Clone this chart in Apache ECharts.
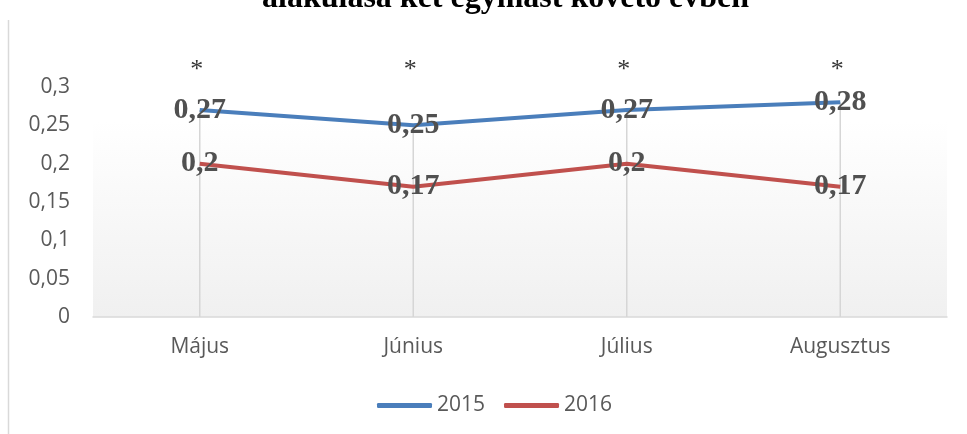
<!DOCTYPE html>
<html><head><meta charset="utf-8">
<script src="https://cdn.jsdelivr.net/npm/echarts@6/dist/echarts.min.js"></script>
<style>html,body{margin:0;padding:0;background:#fff}#c{width:967px;height:434px}</style>
</head><body><div id="c"></div>
<script>
const titleText = 'alakulása két egymást követő évben';
const categories = ['Május', 'Június', 'Július', 'Augusztus'];
const series2015 = [0.27, 0.25, 0.27, 0.28];
const series2016 = [0.2, 0.17, 0.2, 0.17];
const significance = ['*', '*', '*', '*'];
const sigLevel = 0.322;
const yTicks = { min: 0, max: 0.3, interval: 0.05 };

const comma = v => String(v).replace('.', ',');
const dropTops = series2015.map((v, i) => Math.max(v, series2016[i]));
const sans = 'Open Sans';

const chart = echarts.init(document.getElementById('c'));
chart.setOption({
  animation: false,
  title: {
    text: titleText, left: 262, top: -17, padding: 0,
    textStyle: { fontFamily: 'Liberation Serif', fontWeight: 'bold', fontSize: 32, color: '#000' }
  },
  graphic: [{
    type: 'line', shape: { x1: 8.5, y1: 20, x2: 8.5, y2: 434 },
    style: { stroke: '#d9d9d9', lineWidth: 1.5 }
  }],
  grid: {
    left: 93, right: 20, top: 87, bottom: 117, show: true, borderWidth: 0,
    backgroundColor: new echarts.graphic.LinearGradient(0, 0, 0, 1, [
      { offset: 0, color: '#ffffff' }, { offset: 0.15, color: '#ffffff' }, { offset: 1, color: '#f0f0f0' }
    ])
  },
  legend: {
    bottom: 18, left: 377, padding: 0, itemWidth: 55, itemHeight: 5, itemGap: 19,
    textStyle: { fontFamily: sans, fontSize: 21, color: '#595959' },
    data: [
      { name: '2015', icon: 'roundRect' },
      { name: '2016', icon: 'roundRect' }
    ]
  },
  xAxis: {
    type: 'category', data: categories, boundaryGap: true,
    axisLine: { lineStyle: { color: '#d9d9d9', width: 1.5 } },
    axisTick: { show: false },
    axisLabel: { fontFamily: sans, fontSize: 21, color: '#595959', margin: 20 },
    splitLine: { show: false }
  },
  yAxis: {
    type: 'value', min: yTicks.min, max: yTicks.max, interval: yTicks.interval,
    axisLine: { show: false }, axisTick: { show: false },
    splitLine: { show: false },
    axisLabel: { fontFamily: sans, fontSize: 21, color: '#595959', margin: 23,
      formatter: v => comma(+v.toFixed(2)) }
  },
  series: [
    {
      name: 'drop', type: 'bar', data: dropTops, barWidth: 1.5, z: 1,
      itemStyle: { color: '#d6d6d6' }, silent: true, legendHoverLink: false
    },
    {
      name: '2015', type: 'line', data: series2015, z: 3,
      lineStyle: { color: '#4a7ebb', width: 4 }, itemStyle: { color: '#4a7ebb' },
      symbol: 'circle', symbolSize: 0, showSymbol: true,
      label: { show: true, position: 'inside', formatter: p => comma(p.value),
        fontFamily: 'Liberation Serif', fontWeight: 'bold', fontSize: 30, color: '#505050' }
    },
    {
      name: '2016', type: 'line', data: series2016, z: 3,
      lineStyle: { color: '#c0504d', width: 4 }, itemStyle: { color: '#c0504d' },
      symbol: 'circle', symbolSize: 0, showSymbol: true,
      label: { show: true, position: 'inside', formatter: p => comma(p.value),
        fontFamily: 'Liberation Serif', fontWeight: 'bold', fontSize: 30, color: '#505050' }
    },
    {
      name: 'sig', type: 'scatter', data: significance.map(() => sigLevel), symbolSize: 0,
      clip: false, z: 4, silent: true,
      label: { show: true, position: 'inside', offset: [-3, 0], formatter: p => significance[p.dataIndex],
        fontFamily: 'Liberation Serif', fontSize: 26, color: '#000' }
    }
  ]
});
</script></body></html>
